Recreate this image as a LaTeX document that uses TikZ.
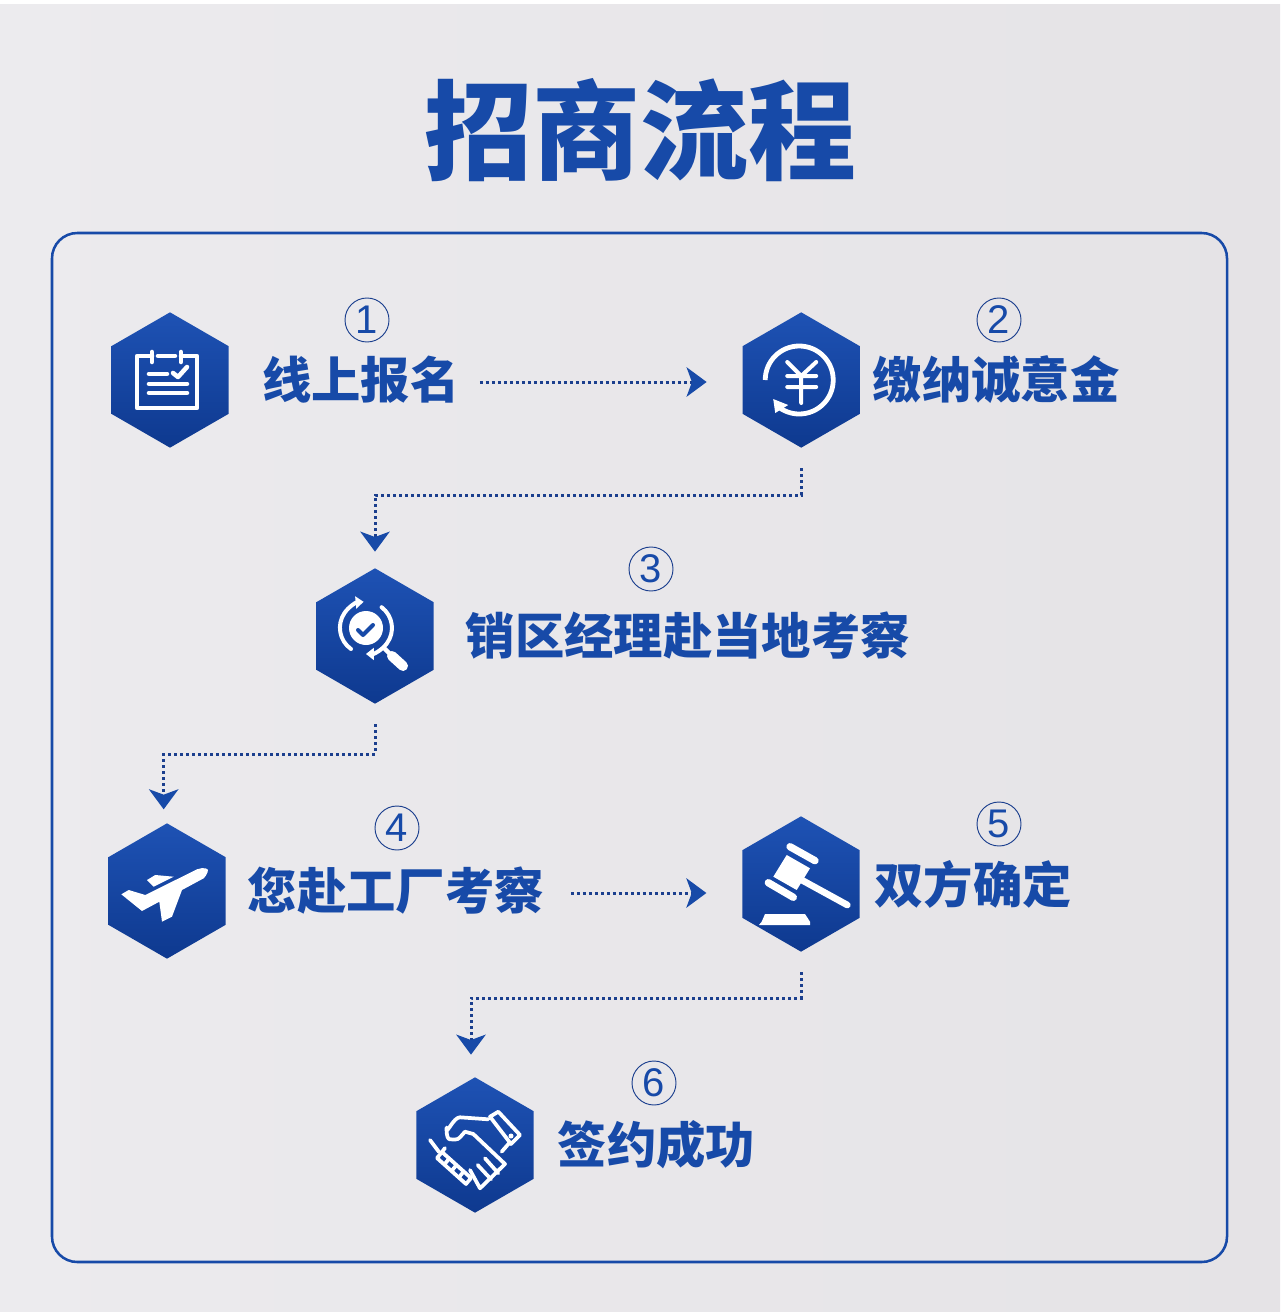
\documentclass[tikz,border=0pt]{standalone}
\usepackage{fontspec}
\usepackage{tikz}
\usetikzlibrary{positioning,arrows.meta,shapes.geometric}
\newfontfamily\cjkfont{Noto Sans CJK SC Black}
\setsansfont{Liberation Sans}
\definecolor{brandblue}{HTML}{174AA8}
\definecolor{dotblue}{HTML}{1B3F8E}
\definecolor{hextop}{HTML}{1E52B4}
\definecolor{hexbottom}{HTML}{0E398F}
\definecolor{paperleft}{HTML}{ECEBEE}
\definecolor{paperright}{HTML}{E5E3E6}

\begin{document}
\begin{tikzpicture}[x=0.75pt,y=-0.75pt,
        hexnode/.style={regular polygon, regular polygon sides=6, regular polygon rotate=30, minimum size=101.5pt, inner sep=0pt, outer sep=0pt, top color=hextop, bottom color=hexbottom},
        labelnode/.style={inner sep=0pt, text=brandblue, font=\cjkfont\fontsize{37}{37}\selectfont},
        numnode/.style={circle, draw=dotblue, line width=0.7pt, minimum size=33pt, inner sep=0pt, text=brandblue, font=\sffamily\fontsize{30}{30}\selectfont},
        dotline/.style={draw=dotblue, line width=2.25pt, dash pattern=on 2.25pt off 2.25pt},
        toright/.style={-{Stealth[length=15pt, width=22pt, inset=4pt, color=brandblue]}},
        iconline/.style={draw=white, line width=3.4pt, line cap=round, line join=round},
        handline/.style={draw=white, line width=2.8pt, line cap=round, line join=round}]

        \useasboundingbox (0,0) rectangle (1280,1312);
        \fill[white] (0,0) rectangle (1280,1312);
        \fill[left color=paperleft, right color=paperright] (0,5) rectangle (1280,1312);
        \draw[brandblue, line width=1.9pt, rounded corners=19pt] (52,233) rectangle (1227,1262);

        \node[inner sep=0pt, text=brandblue, font=\cjkfont\fontsize{81}{81}\selectfont] (title) at (640,130) {招商流程};

        % steps
        \node[hexnode] (h1) at (170,380) {};
        \node[hexnode] (h2) [right=385.5pt of h1] {};
        \node[hexnode] (h3) at (375,636) {};
        \node[hexnode] (h4) at (167,891) {};
        \node[hexnode] (h5) at (801,884) {};
        \node[hexnode] (h6) at (475,1145) {};

        \node[labelnode] (t1) [right=25pt of h1] {线上报名};
        \node[labelnode] (t2) [right=9.5pt of h2] {缴纳诚意金};
        \node[labelnode] (t3) [right=24pt of h3] {销区经理赴当地考察};
        \node[labelnode] (t4) [right=16.5pt of h4] {您赴工厂考察};
        \node[labelnode] (t5) [right=11pt of h5] {双方确定};
        \node[labelnode] (t6) [right=18pt of h6] {签约成功};

        \node[numnode] (n1) at (367,320) {1};
        \node[numnode] (n2) at (999,320) {2};
        \node[numnode] (n3) at (651,569) {3};
        \node[numnode] (n4) at (397,828) {4};
        \node[numnode] (n5) at (999,824) {5};
        \node[numnode] (n6) at (654,1083) {6};

        % connectors
        \coordinate (e23) at (590,495);
        \coordinate (e34) at (270,754);
        \coordinate (e56) at (640,998);
        \draw[dotline, toright, shorten <=15pt, shorten >=27pt] ([yshift=-1.5pt]t1.east) -- ([yshift=-1.5pt]h2.west);
        \draw[dotline, toright, shorten <=20pt, shorten >=27pt] ([yshift=-1.5pt]t4.east) -- ([yshift=-1.5pt]h5.west |- t4.east);
        \draw[dotline, toright, shorten <=15.5pt, shorten >=12.5pt] (h2.south) |- (e23) -| (h3.north);
        \draw[dotline, toright, shorten <=15.5pt, shorten >=10.5pt] (h3.south) |- (e34) -| ([xshift=-2.5pt]h4.north);
        \draw[dotline, toright, shorten <=15.5pt, shorten >=17pt] (h5.south) |- (e56) -| ([xshift=-3pt]h6.north);

        % clipboard
        \begin{scope}[shift={(h1.center)}]
            \draw[iconline] (-18,-24) -- (-33,-24) -- (-33,28) -- (27,28) -- (27,-24) -- (11,-24);
            \draw[iconline] (-18,-28) -- (-18,-18) (11,-28) -- (11,-18) (-12,-24) -- (5,-24);
            \draw[iconline] (-21,-6) -- (-3,-6) (-21,4) -- (17,4) (-21,13) -- (17,13);
            \draw[iconline] (3,-7) -- (8,-3) -- (17,-13);
        \end{scope}

        % coin with arrow
        \begin{scope}[shift={(h2.center)}]
            \draw[iconline, line width=3.6pt, line cap=butt] (-36,0) arc[start angle=180, end angle=490, radius=34];
            \fill[white] (-28,19) -- (-26,33) -- (-13,25) -- cycle;
            \draw[iconline, line width=3pt] (-14,-18) -- (0,-4) -- (15,-18) (-14,-4) -- (15,-4) (-14,7) -- (15,7) (0,-4) -- (0,23);
        \end{scope}

        % magnifier
        \begin{scope}[shift={(h3.center)}]
            \fill[white] (-9,-8) circle (17);
            \draw[draw=brandblue, line width=3pt, line cap=round, line join=round] (-17,-6) -- (-12,-1) -- (-2,-11);
            \draw[iconline, line width=3pt, -{Triangle[length=6pt, width=9pt]}] (-24,13) arc[start angle=125, end angle=265, radius=26];
            \draw[iconline, line width=3pt, -{Triangle[length=6pt, width=9pt]}] (6.6,-28.8) arc[start angle=307, end angle=450, radius=26];
            \draw[iconline] (10,13) -- (18,21);
            \draw[iconline, line width=7.5pt] (17,20) -- (28,30);
        \end{scope}

        % plane
        \begin{scope}[shift={(h4.center)}]
            \fill[white] (-45.7,3.3) -- (-38.3,-1) -- (-21.7,4) -- (30,-21.7) .. controls (36,-24) and (43,-23) .. (40.7,-19) .. controls (39.5,-16) and (38,-14) .. (36.7,-12.7) -- (15,-1) -- (5,25.7) -- (-5,30.7) -- (-7.7,10.7) -- (-25,20) -- cycle;
            \fill[white] (-20,-11) -- (-11.7,-16) -- (6.7,-14.3) -- (-13.3,-4.3) -- cycle;
        \end{scope}

        % gavel
        \begin{scope}[shift={(h5.center)}]
            \fill[white] (-14.3,-29) -- (9,-15.7) -- (-4.3,6) -- (-27.7,-7.3) -- cycle;
            \draw[iconline, line width=5.5pt] (-11,-37.3) -- (14,-23.3) (-32.7,-1.3) -- (-7.7,13.3);
            \draw[iconline, line width=5pt] (0.7,-4) -- (46.3,21);
            \fill[white] (-42,41) -- (9,41) -- (9,37.7) -- (4,30) -- (-36,30) -- (-39.3,37.7) -- cycle;
        \end{scope}

        % handshake
        \begin{scope}[shift={(h6.center)}]
            \draw[handline] (-45,-5) -- (-36,7);
            \draw[handline] (15,-28.3) -- (23.3,-33.3) -- (45,-10) -- (36,-1) -- cycle;
            \fill[white] (36,-9) circle (2.5);
            \draw[handline] (13.3,-25.7) -- (-15,-27.7) to[out=180,in=-90] (-28.3,-16.7) to[out=90,in=180] (-25,-5.7) to[out=0,in=-130] (-15,-7.7) -- (-10,-13.3) -- (-1.7,-11) -- (30,19) -- (5,43.3) -- (-5,25);
            \draw[handline] (2.7,20) -- (16,34.3) (10,13.3) -- (23.3,28.3) (34,-1.7) -- (26.7,6.7) (-33,7) -- (-30,3);
            \draw[handline] (-38,13) -- (-33,7) -- (-4,33) -- (-9,39) -- cycle;
            \foreach \kx/\ky in {-30.75/19.5, -23.5/26, -16.25/32.5}
                \draw[handline] (\kx,\ky) -- ++(5,-6);
        \end{scope}

        \end{tikzpicture}
\end{document}
